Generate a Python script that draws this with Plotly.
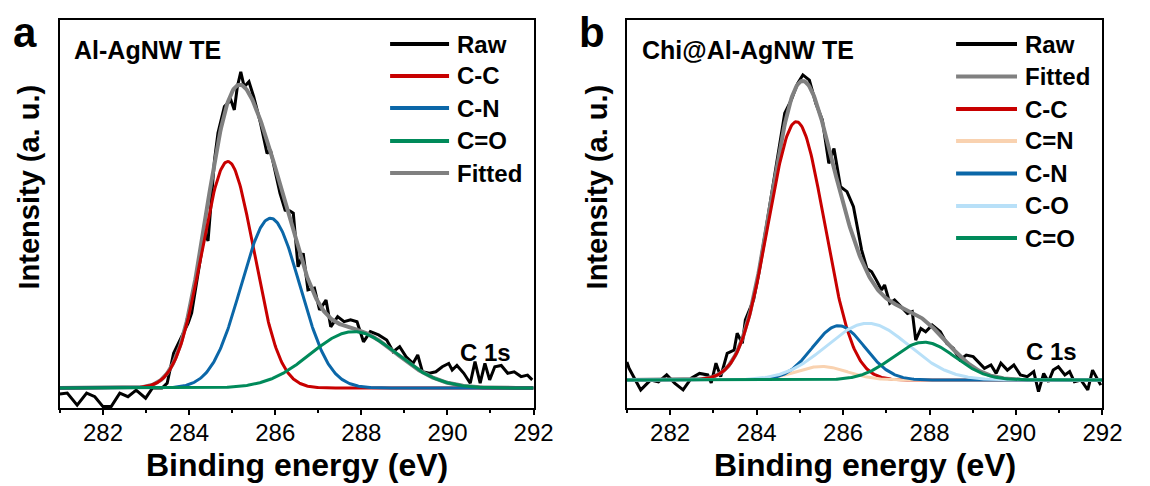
import numpy as np
import plotly.graph_objects as go

W, H = 1150, 486
FONT = "Liberation Sans, Arial, sans-serif"

# ---------------- Panel a data ----------------
a_raw_x = [281.00, 281.17, 281.40, 281.62, 281.81, 282.00, 282.19, 282.39, 282.58, 282.77,
           282.99, 283.15, 283.37, 283.49, 283.64, 283.75, 283.98, 284.06, 284.21, 284.36,
           284.44, 284.59, 284.67, 284.82, 284.97, 285.05, 285.12, 285.20, 285.28, 285.39,
           285.50, 285.66, 285.81, 285.89, 286.11, 286.23, 286.34, 286.42, 286.53, 286.65,
           286.76, 286.91, 287.03, 287.18, 287.29, 287.45, 287.60, 287.75, 287.90, 288.05,
           288.21, 288.40, 288.59, 288.74, 288.89, 289.04, 289.20, 289.31, 289.42, 289.58,
           289.73, 289.88, 290.03, 290.11, 290.22, 290.38, 290.53, 290.64, 290.76, 290.87,
           290.98, 291.10, 291.25, 291.40, 291.55, 291.71, 291.86, 291.97]
a_raw_y = [-0.020, -0.017, -0.057, -0.017, -0.029, -0.062, -0.062, -0.017, -0.029, -0.007,
           -0.034, 0.000, 0.000, 0.016, 0.116, 0.150, 0.217, 0.250, 0.383, 0.517,
           0.490, 0.760, 0.850, 0.938, 0.960, 0.927, 1.004, 1.054, 1.004, 1.021,
           0.971, 0.882, 0.782, 0.793, 0.650, 0.593, 0.590, 0.583, 0.404, 0.449,
           0.327, 0.333, 0.260, 0.293, 0.204, 0.238, 0.221, 0.227, 0.221, 0.154,
           0.188, 0.177, 0.160, 0.121, 0.138, 0.104, 0.082, 0.110, 0.054, 0.049,
           0.054, 0.071, 0.082, 0.060, 0.075, 0.049, 0.016, 0.088, 0.016, 0.082,
           0.027, 0.071, 0.075, 0.049, 0.054, 0.038, 0.043, 0.027]
# fitted peaks: name, center (eV), height, sigma (eV)
a_peak_names = ["C-C", "C-N", "C=O"]
a_peak_centers = [284.90, 285.89, 287.82]
a_peak_heights = [0.755, 0.566, 0.188]
a_peak_sigmas = [0.60, 0.68, 1.00]

# ---------------- Panel b data ----------------
b_raw_x = [281.00, 281.05, 281.32, 281.55, 281.73, 281.92, 282.11, 282.30, 282.49, 282.68,
           282.87, 282.95, 283.06, 283.17, 283.32, 283.48, 283.55, 283.67, 283.74, 283.93,
           284.05, 284.20, 284.35, 284.50, 284.65, 284.80, 284.95, 285.07, 285.22, 285.37,
           285.52, 285.67, 285.79, 285.94, 286.09, 286.24, 286.35, 286.43, 286.55, 286.66,
           286.77, 286.89, 286.96, 287.08, 287.19, 287.34, 287.49, 287.60, 287.68, 287.80,
           287.91, 288.06, 288.25, 288.40, 288.55, 288.70, 288.85, 289.01, 289.16, 289.27,
           289.42, 289.54, 289.65, 289.80, 289.95, 290.10, 290.26, 290.41, 290.52, 290.64,
           290.75, 290.86, 290.98, 291.13, 291.24, 291.35, 291.50, 291.66, 291.77, 291.89,
           291.96]
b_raw_y = [0.060, 0.039, -0.033, 0.000, -0.006, 0.017, -0.011, -0.033, 0.006, 0.022,
           0.017, -0.010, 0.056, 0.011, 0.089, 0.100, 0.156, 0.122, 0.200, 0.267,
           0.356, 0.489, 0.622, 0.744, 0.889, 0.933, 0.989, 1.017, 1.000, 0.922,
           0.867, 0.722, 0.772, 0.644, 0.628, 0.578, 0.500, 0.433, 0.372, 0.361,
           0.333, 0.300, 0.317, 0.256, 0.267, 0.244, 0.222, 0.228, 0.133, 0.172,
           0.161, 0.183, 0.161, 0.122, 0.106, 0.067, 0.083, 0.078, 0.056, 0.039,
           0.050, 0.022, 0.056, 0.033, 0.050, 0.017, 0.011, 0.028, -0.039, 0.022,
           -0.006, 0.033, 0.044, 0.017, 0.028, -0.006, 0.000, -0.033, 0.033, 0.000,
           -0.017]
b_peak_names = ["C-C", "C=N", "C-N", "C-O", "C=O"]
b_peak_centers = [284.92, 285.50, 285.90, 286.57, 287.87]
b_peak_heights = [0.861, 0.045, 0.181, 0.189, 0.126]
b_peak_sigmas = [0.65, 0.60, 0.60, 0.95, 0.72]

COLORS = {"Raw": "#000000", "Fitted": "#808080", "C-C": "#c80000", "C=N": "#f9d2b0",
          "C-N": "#0b67a8", "C-O": "#b8e0f8", "C=O": "#008a5a"}

a_legend = ["Raw", "C-C", "C-N", "C=O", "Fitted"]
b_legend = ["Raw", "Fitted", "C-C", "C=N", "C-N", "C-O", "C=O"]

x_range = [281, 292]
x_ticks = [282, 284, 286, 288, 290, 292]
x_minor_ticks = [281, 283, 285, 287, 289, 291]
a_y_range = [-20 / 300, 368 / 300]
b_y_range = [-28 / 300, 360 / 300]

fig = go.Figure()
grid = np.linspace(281, 292, 551)


def add_panel(xa, ya, raw_x, raw_y, names, centers, heights, sigmas):
    comps = []
    for c, h, s in zip(centers, heights, sigmas):
        comps.append(h * np.exp(-(grid - c) ** 2 / (2 * s * s)))
    fitted = np.sum(comps, axis=0)
    fig.add_trace(go.Scatter(x=raw_x, y=raw_y, mode="lines", name="Raw",
                             line=dict(color=COLORS["Raw"], width=3),
                             xaxis=xa, yaxis=ya, showlegend=False))
    fig.add_trace(go.Scatter(x=grid, y=fitted, mode="lines", name="Fitted",
                             line=dict(color=COLORS["Fitted"], width=4),
                             xaxis=xa, yaxis=ya, showlegend=False))
    for n, comp in zip(names, comps):
        fig.add_trace(go.Scatter(x=grid, y=comp, mode="lines", name=n,
                                 line=dict(color=COLORS[n], width=3),
                                 xaxis=xa, yaxis=ya, showlegend=False))


add_panel("x", "y", a_raw_x, a_raw_y, a_peak_names, a_peak_centers, a_peak_heights, a_peak_sigmas)
add_panel("x2", "y2", b_raw_x, b_raw_y, b_peak_names, b_peak_centers, b_peak_heights, b_peak_sigmas)

xaxis_common = dict(range=x_range, tickvals=x_ticks, ticks="outside", ticklen=5, tickwidth=1.5,
                    tickcolor="black", showline=True, linecolor="black", linewidth=1.5,
                    mirror=True, showgrid=False, zeroline=False, ticklabelstandoff=-3,
                    tickfont=dict(family=FONT, size=24, color="black"),
                    minor=dict(tickvals=x_minor_ticks, ticks="outside",
                               ticklen=3, tickwidth=1.5, tickcolor="black", showgrid=False))
yaxis_common = dict(showline=True, linecolor="black", linewidth=1.5, mirror=True,
                    showgrid=False, zeroline=False, showticklabels=False, ticks="")

ytop = 1 - 20 / H
ybot = 1 - 408 / H
fig.update_layout(
    width=W, height=H, margin=dict(l=0, r=0, t=0, b=0),
    paper_bgcolor="white", plot_bgcolor="white", showlegend=False,
    xaxis=dict(domain=[61 / W, 543 / W], anchor="y", **xaxis_common),
    yaxis=dict(domain=[ybot, ytop], anchor="x", range=a_y_range, **yaxis_common),
    xaxis2=dict(domain=[638 / W, 1122 / W], anchor="y2", **xaxis_common),
    yaxis2=dict(domain=[ybot, ytop], anchor="x2", range=b_y_range, **yaxis_common),
)

ann = []
shapes = []


def px(x):
    return x / W


def py(y):
    return 1 - y / H


def text(x, y, s, size, xanchor="left", angle=0):
    ann.append(dict(x=px(x), y=py(y), xref="paper", yref="paper", text=s, showarrow=False,
                    xanchor=xanchor, yanchor="middle", textangle=angle,
                    font=dict(family=FONT, size=size, color="black")))


# panel letters & labels
text(11, 32, "<b>a</b>", 42)
text(587, 32, "<b>b</b>", 42)
text(73, 50, "<b>Al-AgNW TE</b>", 25)
text(651, 50, "<b>Chi@Al-AgNW TE</b>", 25)
text(466, 352, "<b>C 1s</b>", 24)
text(1042, 351, "<b>C 1s</b>", 24)
# axis titles
text(302, 465, "<b>Binding energy (eV)</b>", 32, xanchor="center")
text(880, 465, "<b>Binding energy (eV)</b>", 32, xanchor="center")
text(30, 187, "<b>Intensity (a. u.)</b>", 29, xanchor="center", angle=-90)
text(608, 187, "<b>Intensity (a. u.)</b>", 29, xanchor="center", angle=-90)

# legends
a_rows = [44, 76, 108, 141, 173]
for name, yy in zip(a_legend, a_rows):
    shapes.append(dict(type="line", xref="paper", yref="paper", x0=px(397), x1=px(457),
                       y0=py(yy), y1=py(yy), line=dict(color=COLORS[name], width=4)))
    text(463, yy, "<b>%s</b>" % name, 24)
b_rows = [44, 76.5, 109, 141, 173.5, 206, 238]
for name, yy in zip(b_legend, b_rows):
    shapes.append(dict(type="line", xref="paper", yref="paper", x0=px(973), x1=px(1035),
                       y0=py(yy), y1=py(yy), line=dict(color=COLORS[name], width=4)))
    text(1041, yy, "<b>%s</b>" % name, 24)

fig.update_layout(annotations=ann, shapes=shapes)
fig.write_html("out.html")
